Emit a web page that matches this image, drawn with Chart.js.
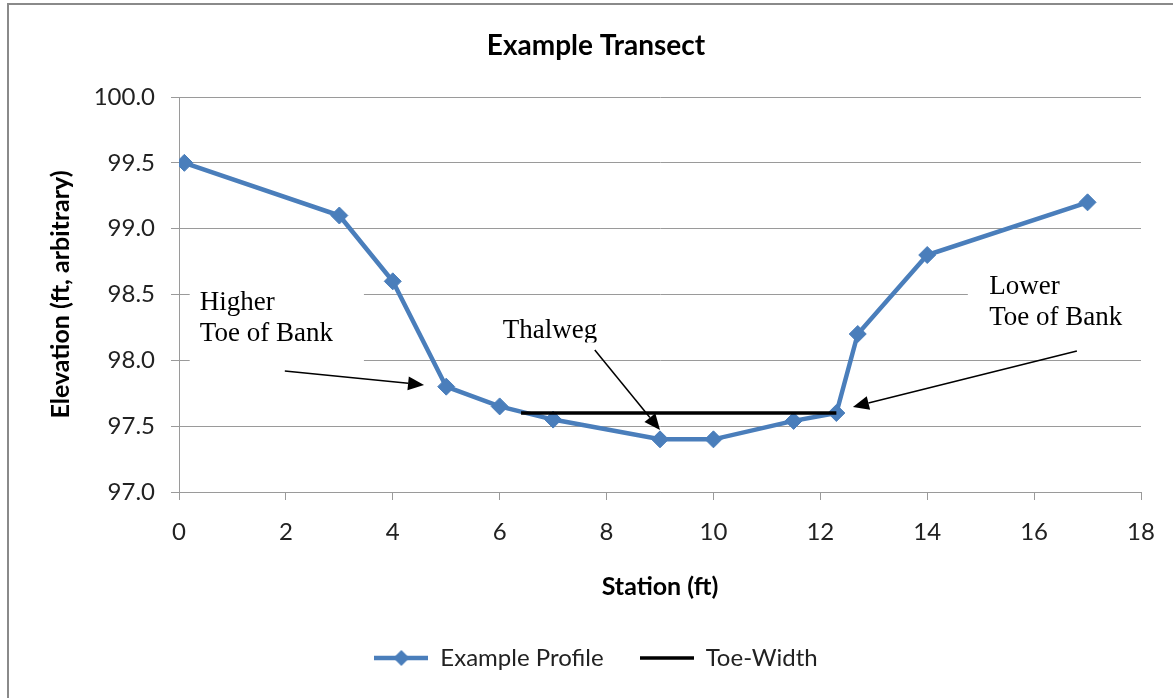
<!DOCTYPE html>
<html>
<head>
<meta charset="utf-8">
<title>Example Transect</title>
<script src="https://cdn.jsdelivr.net/npm/chart.js@4.4.0/dist/chart.umd.min.js"></script>
<style>
  html, body { margin: 0; padding: 0; overflow: hidden; background: #fff; }
  #frame { position: absolute; left: 7px; top: 3px; width: 1400px; height: 900px; border: 2px solid #8a8a8a; }
  #wrap { position: absolute; left: 0; top: 0; width: 1173px; height: 698px; }
</style>
</head>
<body>
<div id="frame"></div>
<div id="wrap"><canvas id="transectChart"></canvas></div>
<script>
// Profile survey points (station ft, elevation ft)
const stations = [0.1, 3, 4, 5, 6, 7, 9, 10, 11.5, 12.3, 12.7, 14, 17];
const elevations = [99.5, 99.1, 98.6, 97.8, 97.65, 97.55, 97.4, 97.4, 97.54, 97.6, 98.2, 98.8, 99.2];

// Toe-width line
const toeStations = [6.4, 12.3];
const toeElevations = [97.6, 97.6];

// Axis ticks
const xTicks = [0, 2, 4, 6, 8, 10, 12, 14, 16, 18];
const yTicks = [97.0, 97.5, 98.0, 98.5, 99.0, 99.5, 100.0];

const blue = '#4a7ebb';
const gridColor = '#9a9a9a';
const textColor = '#222';

// Text callouts, in data units (station, elevation)
const notes = [
    { lines: ['Higher', 'Toe of Bank'], x: 0.39, y: 98.382, box: [0.2, 98.61, 3.46, 97.94] },
    { lines: ['Thalweg'], x: 6.06, y: 98.17, box: [5.8, 98.344, 7.9, 98.135] },
    { lines: ['Lower', 'Toe of Bank'], x: 15.16, y: 98.504, box: [14.76, 98.724, 18.2, 98.101] },
];
const arrows = [
    { from: [1.98, 97.919], to: [4.585, 97.813] },
    { from: [7.78, 98.079], to: [9.0, 97.471] },
    { from: [16.8, 98.071], to: [12.61, 97.646] },
];

function legendIcon(color, width, withDiamond) {
    const c = document.createElement('canvas');
    c.width = 54;
    c.height = 20;
    const g = c.getContext('2d');
    g.strokeStyle = color;
    g.lineWidth = width;
    g.beginPath();
    g.moveTo(0, 10);
    g.lineTo(54, 10);
    g.stroke();
    if (withDiamond) {
        g.fillStyle = color;
        g.beginPath();
        g.moveTo(27, 2);
        g.lineTo(35, 10);
        g.lineTo(27, 18);
        g.lineTo(19, 10);
        g.closePath();
        g.fill();
    }
    return c;
}
const icons = [legendIcon(blue, 4.5, true), legendIcon('#000', 3.5, false)];

const calloutPlugin = {
    id: 'callouts',
    beforeDatasetsDraw(chart) {
        const { ctx, scales: { x, y } } = chart;
        notes.forEach(n => {
            const l = x.getPixelForValue(n.box[0]);
            const t = y.getPixelForValue(n.box[1]);
            const r = x.getPixelForValue(n.box[2]);
            const b = y.getPixelForValue(n.box[3]);
            ctx.save();
            ctx.fillStyle = '#fff';
            ctx.fillRect(l, t, r - l, b - t);
            ctx.beginPath();
            ctx.rect(l, t, r - l, b - t);
            ctx.clip();
            ctx.fillStyle = '#000';
            ctx.font = '27px "Liberation Serif", "Times New Roman", serif';
            ctx.textBaseline = 'alphabetic';
            const tx = x.getPixelForValue(n.x);
            const ty = y.getPixelForValue(n.y);
            n.lines.forEach((line, i) => ctx.fillText(line, tx, ty + i * 31));
            ctx.restore();
        });
    },
    afterDatasetsDraw(chart) {
        const { ctx, scales: { x, y } } = chart;
        ctx.save();
        ctx.strokeStyle = '#000';
        ctx.fillStyle = '#000';
        ctx.lineWidth = 1.5;
        arrows.forEach(a => {
            const x1 = x.getPixelForValue(a.from[0]), y1 = y.getPixelForValue(a.from[1]);
            const x2 = x.getPixelForValue(a.to[0]), y2 = y.getPixelForValue(a.to[1]);
            const ang = Math.atan2(y2 - y1, x2 - x1);
            const head = 16, half = 7;
            const bx = x2 - head * Math.cos(ang), by = y2 - head * Math.sin(ang);
            ctx.beginPath();
            ctx.moveTo(x1, y1);
            ctx.lineTo(bx, by);
            ctx.stroke();
            ctx.beginPath();
            ctx.moveTo(x2, y2);
            ctx.lineTo(bx + half * Math.sin(ang), by - half * Math.cos(ang));
            ctx.lineTo(bx - half * Math.sin(ang), by + half * Math.cos(ang));
            ctx.closePath();
            ctx.fill();
        });
        ctx.restore();
    }
};

const ctx = document.getElementById('transectChart').getContext('2d');
new Chart(ctx, {
    type: 'scatter',
    data: {
        datasets: [{
            label: 'Example Profile',
            data: stations.map((s, i) => ({ x: s, y: elevations[i] })),
            showLine: true,
            borderColor: blue,
            borderWidth: 4.5,
            pointStyle: 'rectRot',
            pointRadius: 8.5,
            pointBackgroundColor: blue,
            pointBorderColor: blue,
            pointBorderWidth: 1,
            order: 1,
        }, {
            label: 'Toe-Width',
            data: toeStations.map((s, i) => ({ x: s, y: toeElevations[i] })),
            showLine: true,
            borderColor: '#000',
            borderWidth: 3.5,
            pointRadius: 0,
            order: 0,
        }]
    },
    options: {
        responsive: true,
        maintainAspectRatio: false,
        animation: false,
        devicePixelRatio: 1,
        layout: { padding: { left: 51, right: 32, top: 0, bottom: 18 } },
        plugins: {
            title: {
                display: true,
                text: 'Example Transect',
                color: '#000',
                font: { family: 'Lato', size: 28, weight: 'bold' },
                padding: { top: 28.7, bottom: 34.7 },
            },
            legend: {
                position: 'bottom',
                labels: {
                    usePointStyle: true,
                    pointStyleWidth: 54,
                    padding: 36,
                    color: textColor,
                    font: { family: 'Lato', size: 24 },
                    sort: (a, b) => a.datasetIndex - b.datasetIndex,
                    generateLabels: chart => {
                        const items = Chart.defaults.plugins.legend.labels.generateLabels(chart);
                        items.forEach(it => { it.pointStyle = icons[it.datasetIndex]; });
                        return items;
                    }
                }
            },
            tooltip: { enabled: false }
        },
        scales: {
            x: {
                type: 'linear',
                min: 0,
                max: 18,
                afterBuildTicks: scale => { scale.ticks = xTicks.map(v => ({ value: v })); },
                afterFit: scale => { scale.height = 118; },
                grid: { drawOnChartArea: false, drawTicks: true, tickLength: 8, color: gridColor },
                border: { color: gridColor, width: 1 },
                ticks: { padding: 18, color: textColor, font: { family: 'Lato', size: 24 } },
                title: {
                    display: true,
                    text: 'Station (ft)',
                    color: '#000',
                    font: { family: 'Lato', size: 25, weight: 'bold' },
                    padding: { top: 0, bottom: 8 }
                }
            },
            y: {
                min: 97,
                max: 100,
                afterBuildTicks: scale => { scale.ticks = yTicks.map(v => ({ value: v })); },
                afterFit: scale => { scale.width = 128; },
                grid: { drawTicks: true, tickLength: 8, color: gridColor },
                border: { color: gridColor, width: 1 },
                ticks: {
                    padding: 16,
                    color: textColor,
                    font: { family: 'Lato', size: 24 },
                    callback: v => Number(v).toFixed(1)
                },
                title: {
                    display: true,
                    text: 'Elevation (ft, arbitrary)',
                    color: '#000',
                    font: { family: 'Lato', size: 25, weight: 'bold' },
                    padding: { top: -5, bottom: 0 }
                }
            }
        }
    },
    plugins: [calloutPlugin]
});
</script>
</body>
</html>
